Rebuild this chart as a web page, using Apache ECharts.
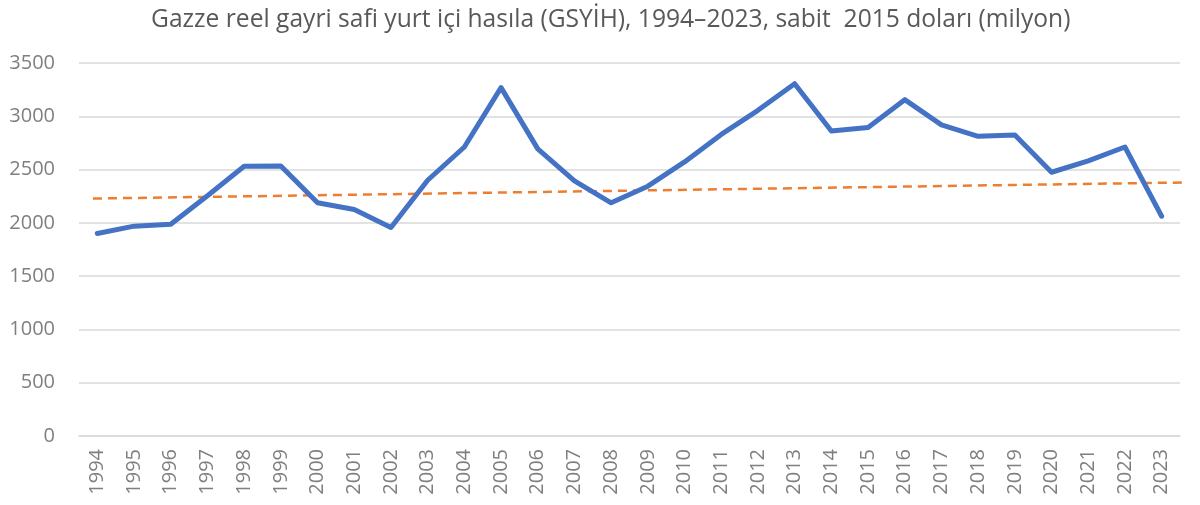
<!DOCTYPE html>
<html><head><meta charset="utf-8">
<script src="https://cdn.jsdelivr.net/npm/echarts@6/dist/echarts.min.js"></script>
<style>html,body{margin:0;padding:0;background:#fff}#c{width:1200px;height:505px}</style>
</head><body><div id="c"></div>
<script>
const years = ["1994","1995","1996","1997","1998","1999","2000","2001","2002","2003","2004","2005","2006","2007","2008","2009","2010","2011","2012","2013","2014","2015","2016","2017","2018","2019","2020","2021","2022","2023"];
const gdp = [1900,1969,1987,2255,2531,2534,2188,2125,1956,2400,2712,3269,2694,2394,2188,2344,2572,2830,3056,3306,2862,2894,3156,2919,2812,2825,2475,2581,2712,2062];
// trend line endpoints: [position in year-index units, value]
const trendIdx = [-0.12, 30.0];
const trendVal = [2228, 2381];
const titleText = "Gazze reel gayri safi yurt içi hasıla (GSYİH), 1994–2023, sabit  2015 doları (milyon)";

const chart = echarts.init(document.getElementById('c'));
const font = "Open Sans";
chart.setOption({
  animation: false,
  title: {
    text: titleText, left: 146, top: 2,
    textStyle: {fontFamily: font, fontSize: 24.6, fontWeight: 'normal', color: '#595959'}
  },
  grid: {left: 79, right: 20, top: 63, bottom: 69},
  xAxis: [{
    type: 'category', data: years, boundaryGap: true,
    axisLine: {show: true, lineStyle: {color: '#d9d9d9', width: 1.5}},
    axisTick: {show: false},
    axisLabel: {rotate: 90, margin: 13, fontFamily: font, fontSize: 20, color: '#7f7f7f', interval: 0}
  }, {
    type: 'value', min: -0.5, max: 29.5, show: false
  }],
  yAxis: {
    type: 'value', min: 0, max: 3500, interval: 500,
    axisLine: {show: false}, axisTick: {show: false},
    splitLine: {lineStyle: {color: '#d9d9d9', width: 1.5}},
    axisLabel: {margin: 24, fontFamily: font, fontSize: 20, color: '#7f7f7f', formatter: v => String(v)}
  },
  series: [{
    type: 'line', data: gdp, xAxisIndex: 0, showSymbol: false, symbol: 'none',
    lineStyle: {color: '#4472C4', width: 5, join: 'round', cap: 'round'}, z: 3
  }, {
    type: 'line', xAxisIndex: 1, clip: false, showSymbol: false, symbol: 'none',
    data: trendIdx.map((x, i) => [x, trendVal[i]]),
    lineStyle: {color: '#ED7D31', width: 2.5, type: [9, 6]}, z: 2
  }]
});
</script></body></html>
